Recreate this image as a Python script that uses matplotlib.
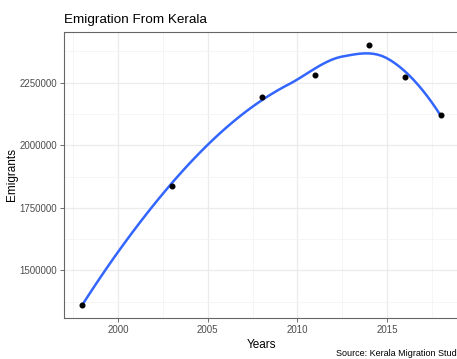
import matplotlib
matplotlib.use('Agg')
import matplotlib.pyplot as plt
import numpy as np

plt.rcParams['font.family'] = ['Liberation Sans', 'DejaVu Sans']

years = [1998, 2003, 2008, 2011, 2014, 2016, 2018]
emigrants = [1361919, 1838478, 2193412, 2280543, 2400375, 2271725, 2121887]
xticks = [2000, 2005, 2010, 2015]
yticks = [1500000, 1750000, 2000000, 2250000]


def local_fit(x, y, x0, span, boost=1.1):
    # weighted local quadratic with tricube weights, returns value and slope
    q = int(np.floor(len(x) * span))
    d = np.abs(x - x0)
    h = np.sort(d)[q - 1] * boost
    w = np.clip(1 - (d / h) ** 3, 0, None) ** 3
    X = np.vstack([np.ones_like(x), x - x0, (x - x0) ** 2]).T
    A = X.T @ (w[:, None] * X)
    b = X.T @ (w * y)
    beta = np.linalg.lstsq(A, b, rcond=None)[0]
    return beta[0], beta[1]


def kd_vertices(pts, fc=1):
    # split cells between the two middle points until they hold <= fc points
    pts = np.sort(pts)
    if len(pts) <= fc:
        return []
    m = (len(pts) - 1) // 2
    cut = (pts[m] + pts[m + 1]) / 2
    return kd_vertices(pts[:m + 1], fc) + [cut] + kd_vertices(pts[m + 1:], fc)


def loess(x, y, xs, span=0.75):
    x = np.asarray(x, float)
    y = np.asarray(y, float)
    mu = 0.005 * (x.max() - x.min())
    lo, hi = x.min() - mu, x.max() + mu
    fc = int(np.floor(len(x) * span * 0.2))
    verts = np.array(sorted(set([lo, hi] + kd_vertices(x, fc))))
    fits = np.array([local_fit(x, y, v, span) for v in verts])
    out = []
    for t in xs:
        # cubic hermite between neighbouring vertices
        i = min(np.searchsorted(verts, t, side='right') - 1, len(verts) - 2)
        a, b = verts[i], verts[i + 1]
        hlen = b - a
        s = (t - a) / hlen
        h00 = 2 * s**3 - 3 * s**2 + 1
        h10 = s**3 - 2 * s**2 + s
        h01 = -2 * s**3 + 3 * s**2
        h11 = s**3 - s**2
        out.append(h00 * fits[i, 0] + h10 * hlen * fits[i, 1]
                   + h01 * fits[i + 1, 0] + h11 * hlen * fits[i + 1, 1])
    return np.array(out)


xs = np.linspace(min(years), max(years), 80)
ys = loess(years, emigrants, xs)

W, H = 457, 359
fig = plt.figure(figsize=(W / 100, H / 100), dpi=100)
ax = fig.add_axes([64 / W, 1 - 318 / H, (459 - 64) / W, (318 - 32) / H])

ax.plot(xs, ys, color='#3366FF', lw=1.8, zorder=3)
ax.scatter(years, emigrants, s=11, color='black', zorder=4)

xr = max(years) - min(years)
ax.set_xlim(min(years) - 0.05 * xr, max(years) + 0.05 * xr)
yr = max(emigrants) - min(emigrants)
ax.set_ylim(min(emigrants) - 0.05 * yr, max(emigrants) + 0.05 * yr)

ax.set_xticks(xticks)
ax.set_yticks(yticks)
ax.set_xticks([1997.5, 2002.5, 2007.5, 2012.5, 2017.5], minor=True)
ax.set_yticks([1375000, 1625000, 1875000, 2125000, 2375000], minor=True)
ax.set_xticklabels([str(t) for t in xticks])
ax.set_yticklabels([str(t) for t in yticks])
ax.tick_params(which='major', length=3, width=0.6, color='#555555',
               labelsize=7, labelcolor='#4d4d4d', pad=2)
ax.tick_params(which='minor', length=0)
ax.grid(which='major', color='#ebebeb', lw=0.9)
ax.grid(which='minor', color='#f4f4f4', lw=0.6)
ax.set_axisbelow(True)
for s in ax.spines.values():
    s.set_color('#666666')
    s.set_linewidth(0.8)

ax.set_xlabel('Years', fontsize=8.5, labelpad=3)
ax.set_ylabel('Emigrants', fontsize=8.5, labelpad=1)
fig.text(64 / W, 1 - 20 / H, 'Emigration From Kerala', fontsize=9.7,
         va='center', ha='left')
fig.text(336 / W, 1 - 353 / H, 'Source: Kerala Migration Study', fontsize=6.5,
         va='center', ha='left')

fig.savefig('out.png', dpi=100)
